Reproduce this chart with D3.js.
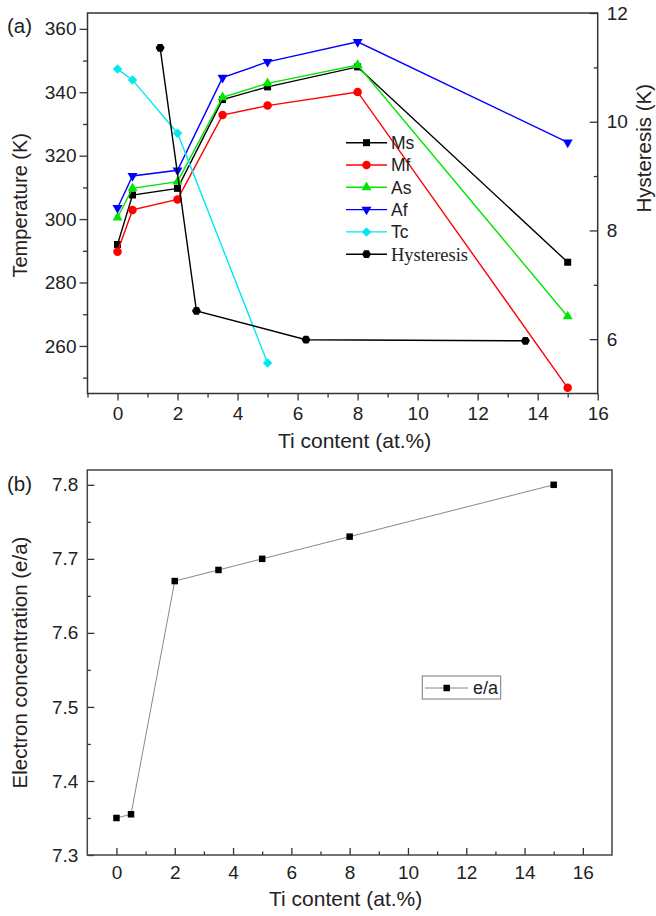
<!DOCTYPE html>
<html>
<head>
<meta charset="utf-8">
<script src="https://cdn.jsdelivr.net/npm/d3@7"></script>
<style>
  body { margin: 0; background: #fff; }
  svg { display: block; }
  text { font-family: "Liberation Sans", Arial, sans-serif; fill: #222; }
</style>
</head>
<body>
<div id="chart"></div>
<script>
// ---- data ----
const tiContent = [0, 0.5, 2, 3.5, 5, 8, 15];
const msVals = [292, 307.6, 309.7, 337.7, 341.7, 348, 286.4];
const mfVals = [289.7, 302.9, 306.2, 332.8, 335.8, 340.1, 246.8];
const asVals = [300.5, 309.7, 311.8, 338.4, 342.8, 348.6, 269.3];
const afVals = [303.5, 313.6, 315.4, 344.6, 349.6, 355.9, 324.2];
const tcTi = [0, 0.5, 2, 5];
const tcVals = [347.3, 343.9, 327.1, 254.6];
const hystTi = [1.42, 2.63, 6.28, 13.59];
const hystVals = [11.36, 6.52, 5.99, 5.97];
const eaVals = [7.35, 7.355, 7.67, 7.685, 7.70, 7.73, 7.80];

const xTicksMajor = [0, 2, 4, 6, 8, 10, 12, 14, 16];
const tempTicks = [260, 280, 300, 320, 340, 360];
const hystTicks = [6, 8, 10, 12];
const eaTicks = [7.3, 7.4, 7.5, 7.6, 7.7, 7.8];

const W = 656, H = 916;
const svg = d3.select('#chart').append('svg').attr('width', W).attr('height', H);

// marker shapes
function markerPath(type, s) {
  if (type == 'square') return d3.symbol(d3.symbolSquare, s * s)();
  if (type == 'circle') return d3.symbol(d3.symbolCircle, Math.PI * s * s / 4)();
  if (type == 'up' || type == 'down') return d3.symbol(d3.symbolTriangle, Math.sqrt(3) / 4 * s * s)();
  if (type == 'diamond') { let r = s / 2; return `M0,${-r}L${r},0L0,${r}L${-r},0Z`; }
  if (type == 'hex') {
    let r = s / 2, pts = [];
    for (let i = 0; i < 6; i++) { let a = Math.PI / 3 * i; pts.push([r * Math.cos(a), r * Math.sin(a)]); }
    return 'M' + pts.join('L') + 'Z';
  }
}
function drawMarker(g, type, s, color, x, y) {
  g.append('path')
    .attr('d', markerPath(type, s))
    .attr('transform', `translate(${x},${y})` + (type == 'down' ? 'rotate(180)' : ''))
    .attr('fill', color);
}
function range(a, b, step) {
  let out = [];
  for (let v = a; v <= b + 1e-9; v += step) out.push(+v.toFixed(4));
  return out;
}

// ================= panel (a) =================
const A = { left: 87.5, right: 597.7, top: 13, bottom: 393.5 };
const xA = d3.scaleLinear().domain([-1, 16]).range([A.left, A.right]);
const yT = d3.scaleLinear().domain([245, 365]).range([A.bottom, A.top]);
const yH = d3.scaleLinear().domain([5, 12]).range([A.bottom, A.top]);

const ga = svg.append('g');

function styleAxis(sel, fs) {
  sel.select('.domain').remove();
  sel.selectAll('line').attr('stroke', '#333').attr('stroke-width', 1.3);
  sel.selectAll('text').style('font-size', fs + 'px').attr('fill', '#222');
}

// x axis (outward ticks)
ga.append('g').attr('transform', `translate(0,${A.bottom})`)
  .call(d3.axisBottom(xA).tickValues(range(-1, 15, 2)).tickSize(4).tickFormat(''))
  .call(s => styleAxis(s, 19));
ga.append('g').attr('transform', `translate(0,${A.bottom})`)
  .call(d3.axisBottom(xA).tickValues(xTicksMajor).tickSize(7).tickPadding(6).tickFormat(d3.format('d')))
  .call(s => styleAxis(s, 19));

// left axis (outward ticks)
ga.append('g').attr('transform', `translate(${A.left},0)`)
  .call(d3.axisLeft(yT).tickValues(range(250, 350, 20)).tickSize(4.5).tickFormat(''))
  .call(s => styleAxis(s, 19));
ga.append('g').attr('transform', `translate(${A.left},0)`)
  .call(d3.axisLeft(yT).tickValues(tempTicks).tickSize(8).tickPadding(3).tickFormat(d3.format('d')))
  .call(s => styleAxis(s, 19));

// right axis (inward ticks)
ga.append('g').attr('transform', `translate(${A.right},0)`)
  .call(d3.axisRight(yH).tickValues([7, 9, 11]).tickSize(-4).tickFormat(''))
  .call(s => styleAxis(s, 19));
ga.append('g').attr('transform', `translate(${A.right},0)`)
  .call(d3.axisRight(yH).tickValues(hystTicks).tickSize(-8).tickPadding(9).tickFormat(d3.format('d')))
  .call(s => styleAxis(s, 19));

ga.append('rect')
  .attr('x', A.left).attr('y', A.top)
  .attr('width', A.right - A.left).attr('height', A.bottom - A.top)
  .attr('fill', 'none').attr('stroke', '#333').attr('stroke-width', 1.5);

const seriesA = [
  { name: 'Ms', xs: tiContent, ys: msVals, color: '#000000', marker: 'square', size: 7, y: yT },
  { name: 'Mf', xs: tiContent, ys: mfVals, color: '#ff0000', marker: 'circle', size: 8.5, y: yT },
  { name: 'As', xs: tiContent, ys: asVals, color: '#00e600', marker: 'up', size: 10, y: yT },
  { name: 'Af', xs: tiContent, ys: afVals, color: '#0000ff', marker: 'down', size: 10, y: yT },
  { name: 'Tc', xs: tcTi, ys: tcVals, color: '#00e8f0', marker: 'diamond', size: 9.5, y: yT },
  { name: 'Hysteresis', xs: hystTi, ys: hystVals, color: '#000000', marker: 'hex', size: 9, y: yH }
];

seriesA.forEach(s => {
  let pts = s.xs.map((x, i) => [xA(x), s.y(s.ys[i])]);
  ga.append('path')
    .attr('d', d3.line()(pts))
    .attr('fill', 'none').attr('stroke', s.color).attr('stroke-width', 1.4);
  pts.forEach(p => drawMarker(ga, s.marker, s.size, s.color, p[0], p[1]));
});

// legend (a)
const legA = ga.append('g');
seriesA.forEach((s, i) => {
  let ly = 142.7 + i * 22.3;
  legA.append('line').attr('x1', 346).attr('x2', 387).attr('y1', ly).attr('y2', ly)
    .attr('stroke', s.color).attr('stroke-width', 1.4);
  drawMarker(legA, s.marker, s.size, s.color, 366.5, ly);
  legA.append('text').attr('x', 391).attr('y', ly).attr('dy', '0.36em')
    .style('font-size', s.name == 'Hysteresis' ? '18.5px' : '17.5px')
    .style('font-family', s.name == 'Hysteresis' ? '"Liberation Serif", "Times New Roman", serif' : null)
    .text(s.name);
});

ga.append('text').attr('x', 7).attr('y', 33).style('font-size', '20.5px').text('(a)');
ga.append('text').attr('x', (A.left + A.right) / 2 + 12).attr('y', 448)
  .attr('text-anchor', 'middle').style('font-size', '21px').text('Ti content (at.%)');
ga.append('text').attr('transform', `translate(27,${(A.top + A.bottom) / 2 + 2})rotate(-90)`)
  .attr('text-anchor', 'middle').style('font-size', '20px').text('Temperature (K)');
ga.append('text').attr('transform', `translate(651,${(A.top + A.bottom) / 2 - 55})rotate(-90)`)
  .attr('text-anchor', 'middle').style('font-size', '20.5px').text('Hysteresis (K)');

// ================= panel (b) =================
const B = { left: 87.3, right: 612, top: 470, bottom: 855 };
const xB = d3.scaleLinear().domain([-1, 17]).range([B.left, B.right]);
const yB = d3.scaleLinear().domain([7.3, 7.82]).range([B.bottom, B.top]);

const gb = svg.append('g');

gb.append('g').attr('transform', `translate(0,${B.bottom})`)
  .call(d3.axisBottom(xB).tickValues(range(1, 15, 2)).tickSize(-3.5).tickFormat(''))
  .call(s => styleAxis(s, 19));
gb.append('g').attr('transform', `translate(0,${B.bottom})`)
  .call(d3.axisBottom(xB).tickValues(xTicksMajor).tickSize(-7).tickPadding(11).tickFormat(d3.format('d')))
  .call(s => styleAxis(s, 19));
gb.append('g').attr('transform', `translate(${B.left},0)`)
  .call(d3.axisLeft(yB).tickValues(range(7.35, 7.75, 0.1)).tickSize(-3.5).tickFormat(''))
  .call(s => styleAxis(s, 19));
gb.append('g').attr('transform', `translate(${B.left},0)`)
  .call(d3.axisLeft(yB).tickValues(eaTicks).tickSize(-7).tickPadding(9).tickFormat(d3.format('.1f')))
  .call(s => styleAxis(s, 19));

gb.append('rect')
  .attr('x', B.left).attr('y', B.top)
  .attr('width', B.right - B.left).attr('height', B.bottom - B.top)
  .attr('fill', 'none').attr('stroke', '#444').attr('stroke-width', 1.5);

let eaPts = tiContent.map((x, i) => [xB(x), yB(eaVals[i])]);
gb.append('path').attr('d', d3.line()(eaPts))
  .attr('fill', 'none').attr('stroke', '#888').attr('stroke-width', 1);
eaPts.forEach(p => drawMarker(gb, 'square', 6.5, '#000', p[0], p[1]));

// legend (b)
gb.append('rect').attr('x', 422.3).attr('y', 676).attr('width', 78.4).attr('height', 23)
  .attr('fill', '#fff').attr('stroke', '#777').attr('stroke-width', 1);
gb.append('line').attr('x1', 425).attr('x2', 468).attr('y1', 688).attr('y2', 688)
  .attr('stroke', '#888').attr('stroke-width', 1);
drawMarker(gb, 'square', 6.5, '#000', 446.7, 688);
gb.append('text').attr('x', 473).attr('y', 688).attr('dy', '0.36em').style('font-size', '18px').text('e/a');

gb.append('text').attr('x', 7).attr('y', 491).style('font-size', '20.5px').text('(b)');
gb.append('text').attr('x', (B.left + B.right) / 2 - 4).attr('y', 906)
  .attr('text-anchor', 'middle').style('font-size', '21px').text('Ti content (at.%)');
gb.append('text').attr('transform', `translate(27,${(B.top + B.bottom) / 2})rotate(-90)`)
  .attr('text-anchor', 'middle').style('font-size', '20.5px').text('Electron concentration (e/a)');
</script>
</body>
</html>
